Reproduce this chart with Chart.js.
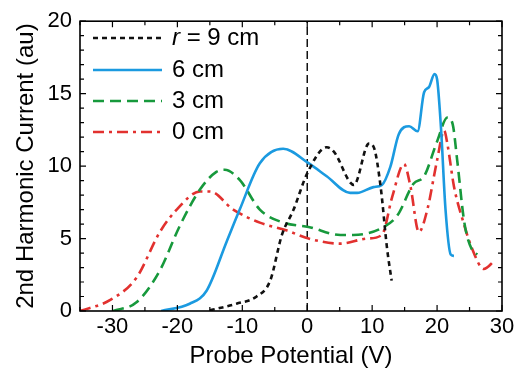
<!DOCTYPE html>
<html>
<head>
<meta charset="utf-8">
<script src="https://cdn.jsdelivr.net/npm/chart.js@4.4.1/dist/chart.umd.min.js"></script>
<style>
  html, body { margin: 0; padding: 0; background: #fff; }
  #wrap { width: 521px; height: 371px; }
</style>
</head>
<body>
<div id="wrap"><canvas id="c"></canvas></div>
<script>
// series data (V, au)
const x9 = [-15, -13.5, -10.9, -7.8, -5.7, -3.9, -2.1, 0, 3.0, 4.1, 7.2, 9.5, 10.25, 11.3, 12.3, 13.0];
const y9 = [0.05, 0.2, 0.5, 1.0, 2.1, 5.25, 7.0, 9.5, 11.3, 11.0, 8.7, 11.55, 11.3, 8.6, 4.3, 2.1];

const x6 = [-22.5, -18.1, -15.5, -12.4, -10.4, -7.3, -3.7, 0.2, 3.0, 6.6, 7.7, 10.2, 11.5, 12.8, 14.1, 15.7, 17.0, 18.0, 18.75, 19.6, 20.0, 20.6, 21.3, 22.1, 22.6];
const y6 = [0, 0.5, 1.4, 4.8, 7.0, 10.2, 11.2, 10.2, 9.3, 8.15, 8.15, 8.55, 8.7, 9.95, 12.2, 12.75, 12.4, 15.1, 15.45, 16.35, 16.0, 12.65, 7.0, 3.9, 3.8];

const x3 = [-29.9, -26.3, -22.7, -19.6, -16.5, -14.0, -12.7, -10.4, -7.3, -3.7, 0.2, 5.1, 7.1, 11.8, 13.9, 16.4, 18.0, 20.0, 21.6, 22.4, 23.1, 24.2, 25.4, 26.2];
const y3 = [0, 0.6, 2.8, 5.9, 8.4, 9.6, 9.75, 9.05, 7.0, 6.1, 5.8, 5.25, 5.25, 5.8, 6.6, 8.8, 9.3, 11.7, 13.35, 12.9, 10.4, 6.1, 4.2, 3.9];

const x0 = [-35, -30.4, -26.3, -22.7, -20.1, -16.5, -15.0, -11.4, -7.3, -3.1, 0.2, 5.1, 9.2, 11.5, 13.1, 14.9, 15.9, 17.2, 18.5, 20.0, 21.1, 21.6, 22.6, 23.9, 25.4, 27.2, 28.8];
const y0 = [0, 0.75, 2.3, 5.45, 7.0, 8.25, 8.25, 7.0, 6.1, 5.55, 5.0, 4.65, 5.0, 5.25, 7.9, 10.15, 8.6, 5.45, 7.0, 10.4, 12.45, 11.5, 8.6, 6.35, 4.3, 2.9, 3.45];

const names = ["9 cm", "6 cm", "3 cm", "0 cm"];
const xTicks = [-30, -20, -10, 0, 10, 20, 30];
const yTicks = [0, 5, 10, 15, 20];

const colors = ["#111111", "#1b9ae0", "#17993c", "#e2312f"];
const dashes = [[5, 4], [], [11, 6], [11, 5, 3, 5]];

function pts(xs, ys){
	let data = new Array();
	for(let i=0;i<xs.length;i++){
		data.push({x:xs[i], y:ys[i]});
	}
	return data;
}

const series = [pts(x9,y9), pts(x6,y6), pts(x3,y3), pts(x0,y0)];

let datasets = series.map((d,i) => ({
	label: names[i],
	data: d,
	borderColor: colors[i],
	borderWidth: 2.6,
	borderDash: dashes[i],
	pointRadius: 0,
	fill: false,
	cubicInterpolationMode: "monotone"
}));
// vertical dashed reference line at 0 V
datasets.push({
	label: "zero",
	data: [{x:0,y:0},{x:0,y:20}],
	borderColor: "#000",
	borderWidth: 1.4,
	borderDash: [8, 4],
	pointRadius: 0
});

const FONT = "Liberation Sans, Arial, sans-serif";

// frame, inward ticks on all four sides, y title and legend
const decor = {
	id: "decor",
	afterDraw(chart){
		const ctx = chart.ctx;
		const a = chart.chartArea;
		const xs = chart.scales.x, ys = chart.scales.y;
		ctx.save();
		ctx.strokeStyle = "#000";
		ctx.lineWidth = 1.6;
		ctx.strokeRect(a.left, a.top, a.right - a.left, a.bottom - a.top);
		ctx.lineWidth = 1.2;
		ctx.beginPath();
		for(let v=-35; v<=30; v+=5){
			const px = xs.getPixelForValue(v);
			const len = (v % 10 === 0) ? 6 : 4;
			ctx.moveTo(px, a.bottom); ctx.lineTo(px, a.bottom - len);
			ctx.moveTo(px, a.top); ctx.lineTo(px, a.top + len);
		}
		for(let v=0; v<=20; v+=1){
			const py = ys.getPixelForValue(v);
			const len = (v % 5 === 0) ? 6 : 4;
			ctx.moveTo(a.left, py); ctx.lineTo(a.left + len, py);
			ctx.moveTo(a.right, py); ctx.lineTo(a.right - len, py);
		}
		ctx.stroke();

		// y axis title
		ctx.fillStyle = "#000";
		ctx.font = "24px " + FONT;
		ctx.textAlign = "center";
		ctx.textBaseline = "middle";
		ctx.translate(26, (a.top + a.bottom) / 2);
		ctx.rotate(-Math.PI / 2);
		ctx.fillText("2nd Harmonic Current (au)", 0, 0);
		ctx.restore();

		// legend
		ctx.save();
		ctx.textBaseline = "middle";
		ctx.textAlign = "left";
		ctx.fillStyle = "#000";
		const rows = [38, 70, 101, 132];
		for(let i=0;i<names.length;i++){
			const y = rows[i];
			ctx.strokeStyle = colors[i];
			ctx.lineWidth = 2.6;
			ctx.setLineDash(dashes[i]);
			ctx.beginPath();
			ctx.moveTo(93, y); ctx.lineTo(162, y);
			ctx.stroke();
			ctx.setLineDash([]);
			let tx = 172;
			if(i === 0){
				ctx.font = "italic 24px " + FONT;
				ctx.fillText("r", tx, y);
				tx += ctx.measureText("r").width;
				ctx.font = "24px " + FONT;
				ctx.fillText(" = " + names[i], tx, y);
			}else{
				ctx.font = "24px " + FONT;
				ctx.fillText(names[i], tx, y);
			}
		}
		ctx.restore();
	}
};

new Chart(document.getElementById("c"), {
	type: "line",
	data: { datasets: datasets },
	options: {
		responsive: true,
		maintainAspectRatio: false,
		animation: false,
		layout: { padding: { top: 14, right: 19, left: 0, bottom: 0 } },
		plugins: { legend: { display: false }, tooltip: { enabled: false } },
		scales: {
			x: {
				type: "linear",
				min: -35, max: 30,
				afterBuildTicks: s => { s.ticks = xTicks.map(v => ({value: v})); },
				afterFit: s => { s.height = 60; },
				grid: { display: false, drawTicks: false },
				border: { display: false },
				ticks: { color: "#000", font: { size: 22, family: FONT }, padding: 3, maxRotation: 0 },
				title: { display: true, text: "Probe Potential (V)", color: "#000", font: { size: 24, family: FONT }, padding: { top: 0, bottom: 0 } }
			},
			y: {
				min: 0, max: 20,
				afterBuildTicks: s => { s.ticks = yTicks.map(v => ({value: v})); },
				afterFit: s => { s.width = 80; },
				grid: { display: false, drawTicks: false },
				border: { display: false },
				ticks: { color: "#000", font: { size: 22, family: FONT }, padding: 8 }
			}
		}
	},
	plugins: [decor]
});
</script>
</body>
</html>
